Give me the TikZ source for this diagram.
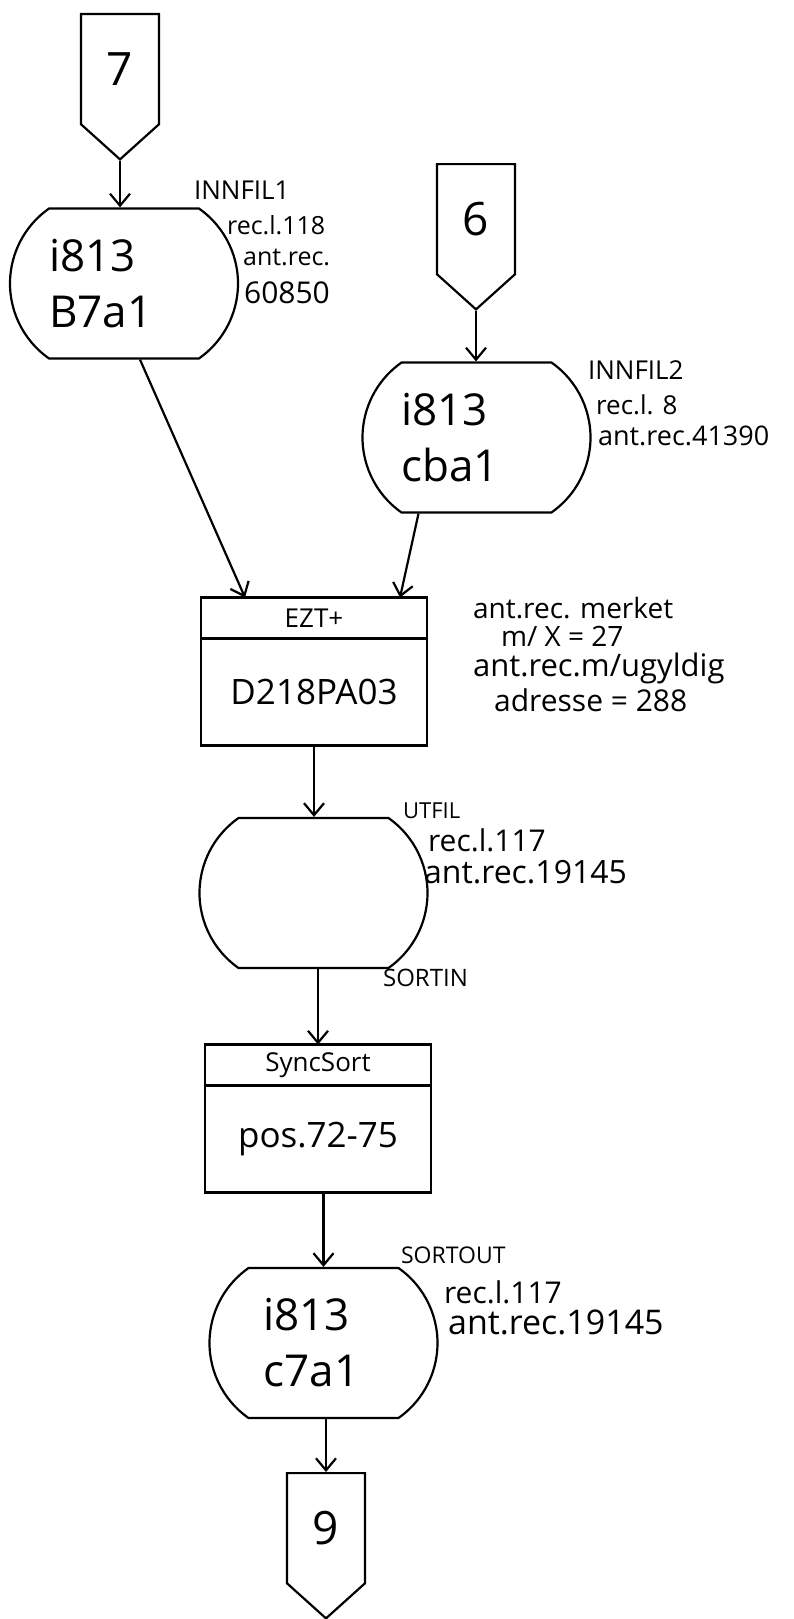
\documentclass[tikz,border=0pt]{standalone}
\usepackage{fontspec}
\setmainfont{Open Sans}
\usetikzlibrary{arrows.meta, positioning, shapes.misc, shapes.symbols}

\begin{document}
\begin{tikzpicture}[x=1pt, y=-1pt, line width=2.2pt,
  connector/.style={draw, signal, signal to=south, signal pointer angle=96,
    minimum width=78pt, minimum height=122pt, inner sep=0pt, anchor=north,
    font=\fontsize{46}{50}\selectfont},
  disk/.style={draw, rounded rectangle, rounded rectangle arc length=110,
    minimum width=228pt, minimum height=150pt, inner sep=0pt,
    text width=150pt, align=left, font=\fontsize{44}{56}\selectfont},
  head/.style={draw, minimum width=226pt, minimum height=41pt, inner sep=0pt,
    outer sep=0pt, font=\fontsize{26}{28}\selectfont},
  body/.style={draw, minimum width=226pt, minimum height=107pt, inner sep=0pt,
    outer sep=0pt, font=\fontsize{35}{40}\selectfont},
  note/.style={anchor=west, inner sep=0pt, font=\fontsize{#1}{#1}\selectfont},
  note/.default=26,
  flow/.style={-{Straight Barb[length=12pt, width=20pt]}}]
\useasboundingbox (0,0) rectangle (793,1619);
% Off-page connectors in and out
\node[connector] (c7) at (120,13) {7};
\node[connector] (c6) at (476,163) {6};
\node[connector] (c9) at (326,1472) {9};
% Input files
\node[disk] (b7a1) at (124,283.5) {i813\\B7a1};
\node[disk] (cba1) at (476.5,437.5) {i813\\cba1};
% The EZT+ program
\node[head] (ezt head) at (314,618) {EZT+};
\node[body, below=0pt of ezt head] (ezt) {D218PA03};
% Work file between the two steps
\node[disk] (utfil) at (313.5,893) {};
% The sort step
\node[head] (sort head) at (318,1065) {SyncSort};
\node[body, below=0pt of sort head] (sort) {pos.72-75};
% Output file
\node[disk, text width=120pt] (c7a1) at (323.5,1343) {i813\\c7a1};
% File notes
\node[note] (b7a1 file) at (193,190) {INNFIL1};
\node[note=25] (b7a1 len) at (226,225) {rec.l.118};
\node[note=25] (b7a1 ant) at (242,257) {ant.rec.};
\node[note=30] (b7a1 cnt) at (243,293) {60850};
\node[note=26] (cba1 file) at (587,370) {INNFIL2};
\node[note=26] (cba1 len) at (595,405) {rec.l. 8};
\node[note=27] (cba1 cnt) at (597,436) {ant.rec.41390};
\node[note=22] (utfil file) at (402,811) {UTFIL};
\node[note=30] (utfil len) at (427,840) {rec.l.117};
\node[note=32] (utfil cnt) at (423,872) {ant.rec.19145};
\node[note=24] (utfil sort) at (382,978) {SORTIN};
\node[note=23] (c7a1 file) at (400,1255) {SORTOUT};
\node[note=30] (c7a1 len) at (443,1292) {rec.l.117};
\node[note=34] (c7a1 cnt) at (447,1322) {ant.rec.19145};
% Counts from the EZT+ run
\node[note=28] (ezt mark) at (472,608) {ant.rec. merket};
\node[note=28] (ezt mark n) at (500,636) {m/ X = 27};
\node[note=31] (ezt bad) at (472,668) {ant.rec.m/ugyldig};
\node[note=30] (ezt bad n) at (493,700) {adresse = 288};
% Flow
\draw[flow] (c7.south) -- (c7.south |- b7a1.north);
\draw[flow] (c6.south) -- (c6.south |- cba1.north);
\draw[flow] ([xshift=16pt]b7a1.south) -- ([xshift=-69pt]ezt head.north);
\draw[flow] ([xshift=-58pt]cba1.south) -- ([xshift=86pt]ezt head.north);
\draw[flow] (ezt.south) -- (ezt.south |- utfil.north);
\draw[flow] (sort head.north |- utfil.south) -- (sort head.north);
\draw[flow] (c7a1.north |- sort.south) -- (c7a1.north);
\draw[flow] (c9.north |- c7a1.south) -- (c9.north);
\end{tikzpicture}
\end{document}
